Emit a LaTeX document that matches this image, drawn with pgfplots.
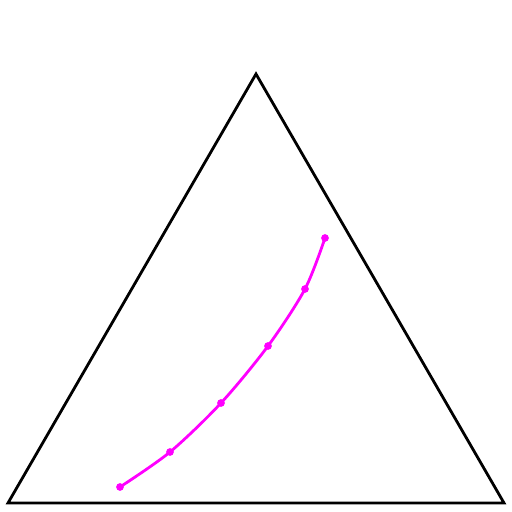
\documentclass[border=0pt]{standalone}
\usepackage{pgfplots}
\pgfplotsset{compat=1.18}
\definecolor{mag}{RGB}{255,0,255}
\begin{document}
\begin{tikzpicture}
\begin{axis}[width=512pt,height=512pt,scale only axis,
  xmin=0,xmax=512,ymin=0,ymax=512,hide axis,clip=false]
\path (axis cs:0,0) rectangle (axis cs:512,512);
\addplot[black,line width=2.8pt,line join=miter] coordinates {(8,9)(504,9)(256,438)} -- cycle;
\addplot[mag,line width=2.8pt,smooth,tension=0.5,mark=*,mark size=3.6pt,mark options={solid,fill=mag,draw=mag,line width=0.4pt}]
  coordinates {(120,25)(170,60)(221,109)(268,166)(305,223)(325,274)};
\end{axis}
\end{tikzpicture}
\end{document}
